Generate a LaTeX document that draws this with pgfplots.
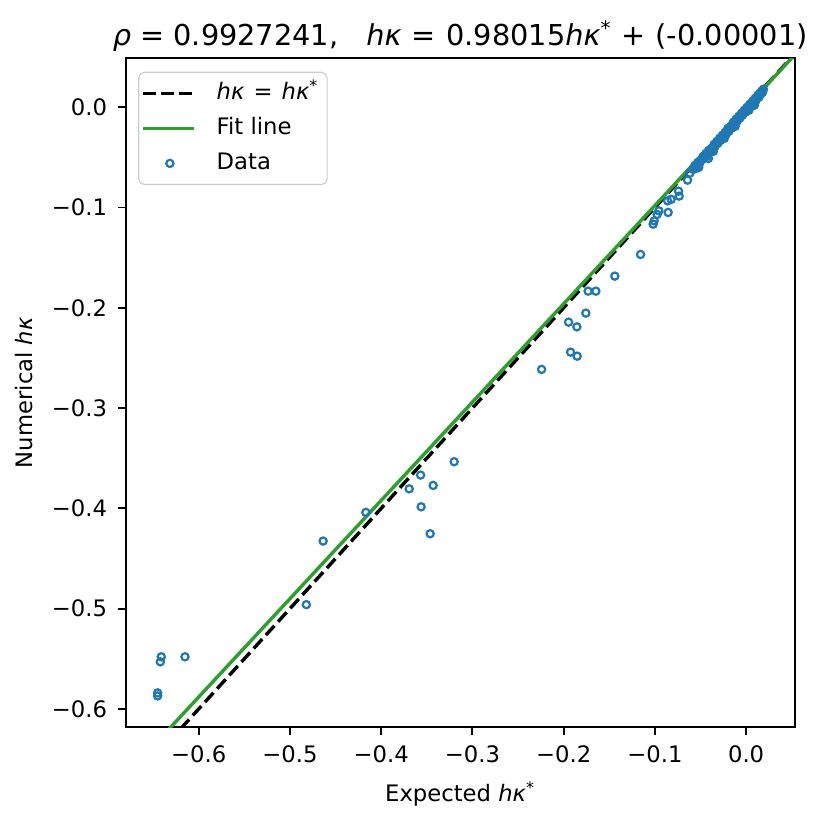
\documentclass[border=0pt]{standalone}
\usepackage{pgfplots}
\pgfplotsset{compat=1.18}
\usepackage{fontspec}
\setmainfont{DejaVu Sans}
\definecolor{tabblue}{HTML}{1F77B4}
\definecolor{tabgreen}{HTML}{2CA02C}
\newcommand{\hk}{\textit{hκ}}
\begin{document}
\begin{tikzpicture}
\begin{axis}[
  at={(0,0)}, anchor=south west,
  scale only axis,
  width=240.9bp, height=240.7bp,
  xmin=-0.680, xmax=0.0534,
  ymin=-0.618, ymax=0.0487,
  tick pos=left,
  tick align=outside,
  major tick length=2.9bp,
  every tick/.style={black, line width=0.66bp},
  axis line style={line width=0.66bp},
  xtick={-0.6,-0.5,-0.4,-0.3,-0.2,-0.1,0},
  xticklabels={−0.6,−0.5,−0.4,−0.3,−0.2,−0.1,0.0},
  ytick={-0.6,-0.5,-0.4,-0.3,-0.2,-0.1,0},
  yticklabels={−0.6,−0.5,−0.4,−0.3,−0.2,−0.1,0.0},
  tick label style={font=\fontsize{8.2}{10}\selectfont},
  xticklabel style={yshift=-0.3bp},
  yticklabel style={xshift=-0.3bp},
  label style={font=\fontsize{8.2}{10}\selectfont},
  xlabel={Expected \hk\textsuperscript{*}},
  ylabel={Numerical \hk},
  title={\textit{ρ} = 0.9927241,\hspace{0.97em}\hk\hspace{0.36em}=\hspace{0.36em}0.98015\hk\textsuperscript{*}\hspace{0.34em}+\hspace{0.34em}(-0.00001)},
  title style={font=\fontsize{10.4}{12}\selectfont, anchor=base, yshift=-1.2bp, inner sep=0pt},
  legend style={at={(0,1)}, anchor=north west, xshift=4.5bp, yshift=-4.8bp,
    draw=black!20, rounded corners=2pt, fill=white,
    inner xsep=1bp, inner ysep=1.6bp,
    font=\fontsize{8.2}{10}\selectfont, row sep=0.6bp,
    nodes={text height=6.2bp, text depth=1.8bp, inner sep=2bp},
    /tikz/every odd column/.append style={column sep=5.6bp},
    /tikz/every even column/.append style={column sep=4.5bp},
    cells={anchor=west}},
  legend image code/.code={\draw[#1] (0bp,0bp) -- (18.25bp,0bp);},
]
\addlegendimage{black, line width=1.23bp, dash pattern=on 4.55bp off 1.97bp}
\addlegendentry{\hk\hspace{0.4em}=\hspace{0.4em}\hk\textsuperscript{*}}
\addlegendimage{tabgreen, line width=1.23bp}
\addlegendentry{Fit line}
\addlegendimage{legend image code/.code={\draw[tabblue, line width=0.8bp] (9.6bp,0bp) circle (1.3bp);}}
\addlegendentry{Data}

\addplot[only marks, mark=o, mark size=1.3bp, tabblue, mark options={line width=0.8bp}, forget plot] coordinates {
(-0.645,-0.584) (-0.645,-0.587) (-0.641,-0.548) (-0.642,-0.553) (-0.615,-0.548)
(-0.482,-0.496) (-0.4636,-0.4326) (-0.4168,-0.404)
(-0.3693,-0.3805) (-0.3568,-0.3668) (-0.343,-0.3771) (-0.3562,-0.3984) (-0.3463,-0.4253) (-0.320,-0.3535)
(-0.2242,-0.2614) (-0.1924,-0.2442) (-0.1852,-0.2482) (-0.1946,-0.2143) (-0.1855,-0.219)
(-0.1757,-0.2053) (-0.1732,-0.1834) (-0.1647,-0.1834) (-0.1439,-0.1684) (-0.1157,-0.1468)
(-0.1019,-0.1166) (-0.1008,-0.1133) (-0.0975,-0.1069) (-0.0957,-0.1033) (-0.0855,-0.1049)
(-0.0861,-0.0933) (-0.0822,-0.0919) (-0.0741,-0.0837) (-0.0734,-0.0886) (-0.0642,-0.0727)
(-0.0617,-0.0657) (-0.0544,-0.060) (-0.0413,-0.051)
(-0.058,-0.062) (-0.056,-0.058) (-0.055,-0.061) (-0.053,-0.055) (-0.051,-0.056) (-0.050,-0.053)
(-0.048,-0.052) (-0.047,-0.049) (-0.045,-0.048) (-0.044,-0.046) (-0.043,-0.049) (-0.041,-0.043)
(-0.040,-0.045) (-0.038,-0.041) (-0.037,-0.043) (-0.035,-0.037) (-0.034,-0.039) (-0.032,-0.034)
(-0.031,-0.036) (-0.029,-0.031) (-0.028,-0.033) (-0.026,-0.028) (-0.025,-0.030) (-0.023,-0.025)
(-0.022,-0.027) (-0.020,-0.021) (-0.019,-0.024) (-0.017,-0.019) (-0.016,-0.021) (-0.014,-0.015)
(-0.013,-0.018) (-0.011,-0.012) (-0.010,-0.014) (-0.008,-0.009) (-0.007,-0.011) (-0.005,-0.006)
(-0.004,-0.008) (-0.002,-0.003) (-0.001,-0.005) (0.001,0.000) (0.002,-0.002) (0.004,0.003)
(0.005,0.001) (0.007,0.006) (0.008,0.004) (0.010,0.009) (0.011,0.007) (0.013,0.012)
(0.014,0.010) (0.015,0.014) (0.016,0.013) (0.017,0.016) (0.018,0.015) (0.019,0.018)
(-0.052,-0.060) (-0.036,-0.044) (-0.024,-0.031) (-0.012,-0.019) (0.003,-0.003) (0.009,0.002)
};
\addplot[black, line width=1.23bp, dash pattern=on 4.55bp off 1.97bp, forget plot] coordinates {(-0.70,-0.70) (0.07,0.07)};
\addplot[tabgreen, line width=1.23bp, forget plot] coordinates {(-0.70,-0.68612) (0.07,0.06860)};
\end{axis}
\pgfresetboundingbox
\useasboundingbox (-45.25bp,-35.64bp) rectangle (253.55bp,261.72bp);
\end{tikzpicture}
\end{document}
